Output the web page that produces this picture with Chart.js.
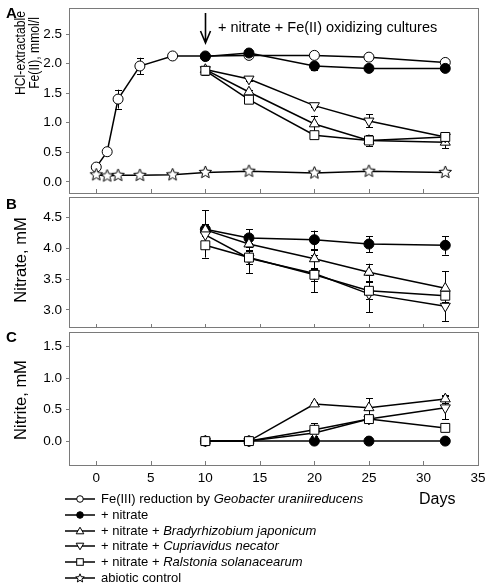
<!DOCTYPE html>
<html>
<head>
<meta charset="utf-8">
<script src="https://cdn.jsdelivr.net/npm/chart.js@4/dist/chart.umd.min.js"></script>
<style>
  html,body{margin:0;padding:0;background:#fff;}
  #wrap{position:relative;width:490px;height:587px;overflow:hidden;font-family:"Liberation Sans",Arial,sans-serif;color:#000;}
  canvas{position:absolute;left:0;}
  .t{position:absolute;white-space:nowrap;}
  .rot{transform:translate(-50%,-50%) rotate(-90deg);}
  .rotc{transform:translate(-50%,-50%) rotate(-90deg) scaleX(0.87);}
  .leg{position:absolute;left:64px;height:16px;font-size:13px;line-height:16px;white-space:nowrap;}
  .leg svg{position:absolute;left:0;top:2px;}
  .leg span{position:absolute;left:37px;top:0;}
</style>
</head>
<body>
<div id="wrap">
  <canvas id="cA" width="490" height="200" style="top:0px"></canvas>
  <canvas id="cB" width="490" height="145" style="top:190px"></canvas>
  <canvas id="cC" width="490" height="170" style="top:325px"></canvas>

  <div class="t" style="left:6px;top:4px;font-size:15px;font-weight:bold;">A</div>
  <div class="t" style="left:6px;top:195px;font-size:15px;font-weight:bold;">B</div>
  <div class="t" style="left:6px;top:328px;font-size:15px;font-weight:bold;">C</div>

  <div class="t rotc" style="left:20px;top:53px;font-size:14px;">HCl-extractable</div>
  <div class="t rotc" style="left:34px;top:53px;font-size:14px;">Fe(II), mmol/l</div>
  <div class="t rot" style="left:20px;top:260px;font-size:16.5px;">Nitrate, mM</div>
  <div class="t rot" style="left:20px;top:400px;font-size:16.5px;">Nitrite, mM</div>

  <div class="t" style="left:218px;top:19px;font-size:14.5px;">+ nitrate + Fe(II) oxidizing cultures</div>
  <div class="t" style="left:419px;top:490px;font-size:16px;">Days</div>

  <div id="legend"></div>
</div>
<script>
// ---------- DATA ----------
const xTicks = [0, 5, 10, 15, 20, 25, 30, 35];
const yTicksA = [0.0, 0.5, 1.0, 1.5, 2.0, 2.5];
const yTicksB = [3.0, 3.5, 4.0, 4.5];
const yTicksC = [0.0, 0.5, 1.0, 1.5];

const daysA = [0, 1, 2, 4, 7, 10, 14, 20, 25, 32];
const daysN = [10, 14, 20, 25, 32];

const seriesNames = [
  "Fe(III) reduction by |Geobacter uraniireducens",
  "+ nitrate",
  "+ nitrate + |Bradyrhizobium japonicum",
  "+ nitrate + |Cupriavidus necator",
  "+ nitrate + |Ralstonia solanacearum",
  "abiotic control"
];

// Panel A: HCl-extractable Fe(II), mmol/l
const geoA     = [0.25, 0.51, 1.40, 1.96, 2.13, 2.13, 2.14, 2.14, 2.11, 2.02];
const geoAErr  = [0, 0.02, 0.16, 0.14, 0.02, 0.03, 0.02, 0.02, 0.04, 0.02];
const abioA    = [0.12, 0.10, 0.11, 0.11, 0.12, 0.16, 0.18, 0.15, 0.18, 0.16];
const abioAErr = [0, 0, 0, 0, 0, 0, 0, 0, 0, 0];
const nitA     = [2.12, 2.18, 1.96, 1.92, 1.92];
const nitAErr  = [0.05, 0.02, 0.07, 0.03, 0.03];
const bradyA   = [1.90, 1.52, 0.98, 0.70, 0.67];
const bradyAErr= [0.06, 0.03, 0.14, 0.05, 0.10];
const cupriA   = [1.90, 1.74, 1.29, 1.03, 0.76];
const cupriAErr= [0.06, 0.03, 0.03, 0.11, 0.03];
const ralsA    = [1.88, 1.39, 0.79, 0.70, 0.76];
const ralsAErr = [0.08, 0.03, 0.03, 0.09, 0.04];

// Panel B: Nitrate, mM
const nitB     = [4.31, 4.17, 4.14, 4.07, 4.05];
const nitBErr  = [0.31, 0.14, 0.15, 0.13, 0.15];
const bradyB   = [4.30, 4.07, 3.83, 3.61, 3.35];
const bradyBErr= [0.10, 0.10, 0.15, 0.14, 0.28];
const cupriB   = [4.22, 3.84, 3.59, 3.26, 3.06];
const cupriBErr= [0.10, 0.24, 0.30, 0.30, 0.24];
const ralsB    = [4.05, 3.85, 3.57, 3.31, 3.23];
const ralsBErr = [0.20, 0.10, 0.10, 0.14, 0.10];

// Panel C: Nitrite, mM
const nitC     = [0, 0, 0, 0, 0];
const nitCErr  = [0, 0, 0, 0, 0];
const bradyC   = [0, 0, 0.59, 0.53, 0.67];
const bradyCErr= [0, 0, 0.03, 0.15, 0.06];
const cupriC   = [0, 0, 0.13, 0.35, 0.53];
const cupriCErr= [0, 0, 0.05, 0.03, 0.18];
const ralsC    = [0, 0, 0.18, 0.35, 0.21];
const ralsCErr = [0, 0, 0.10, 0.03, 0.03];

// ---------- STYLE HELPERS ----------
const FONT = '"Liberation Sans", Arial, sans-serif';
const BOX = '#7a7a7a';

function makeStar(r){
  const s = Math.ceil(r*2+4);
  const c = document.createElement('canvas'); c.width = s; c.height = s;
  const g = c.getContext('2d');
  g.beginPath();
  for(let k=0;k<10;k++){
    const a = -Math.PI/2 + k*Math.PI/5;
    const rr = (k%2) ? r*0.45 : r;
    g.lineTo(s/2 + rr*Math.cos(a), s/2 + rr*Math.sin(a));
  }
  g.closePath(); g.fillStyle='#fff'; g.fill();
  g.lineWidth = 1; g.strokeStyle = '#000'; g.stroke();
  return c;
}
const starImg = makeStar(6.5);

const styles = {
  geo:   {pointStyle:'circle',   pointRadius:5,   pointBackgroundColor:'#fff', rot:0},
  nit:   {pointStyle:'circle',   pointRadius:5,   pointBackgroundColor:'#000', rot:0},
  brady: {pointStyle:'triangle', pointRadius:5.8, pointBackgroundColor:'#fff', rot:0},
  cupri: {pointStyle:'triangle', pointRadius:5.8, pointBackgroundColor:'#fff', rot:180},
  rals:  {pointStyle:'rect',     pointRadius:6.3, pointBackgroundColor:'#fff', rot:0},
  abio:  {pointStyle:starImg,    pointRadius:6.5, pointBackgroundColor:'#fff', rot:0}
};

function ds(key, days, vals, errs){
  const st = styles[key];
  return {
    data: days.map((d,i)=>({x:d, y:vals[i]})),
    err: errs,
    borderColor:'#000', borderWidth:1.5,
    pointStyle: st.pointStyle, pointRadius: st.pointRadius,
    pointRotation: st.rot,
    pointBackgroundColor: st.pointBackgroundColor,
    pointBorderColor:'#000', pointBorderWidth:1,
    pointHoverRadius: st.pointRadius,
    tension:0, fill:false, clip:false
  };
}

const panelPlugin = {
  id:'panel',
  beforeDatasetsDraw(chart){
    const ctx = chart.ctx, xs = chart.scales.x, ys = chart.scales.y;
    ctx.save();
    ctx.strokeStyle = '#000'; ctx.lineWidth = 1;
    chart.data.datasets.forEach(d=>{
      if(!d.err) return;
      d.data.forEach((p,i)=>{
        const e = d.err[i]; if(!e) return;
        const px = Math.round(xs.getPixelForValue(p.x)) + 0.5;
        const y1 = ys.getPixelForValue(p.y + e), y2 = ys.getPixelForValue(p.y - e);
        ctx.beginPath();
        ctx.moveTo(px, y1); ctx.lineTo(px, y2);
        ctx.moveTo(px-3.5, Math.round(y1)+0.5); ctx.lineTo(px+3.5, Math.round(y1)+0.5);
        ctx.moveTo(px-3.5, Math.round(y2)+0.5); ctx.lineTo(px+3.5, Math.round(y2)+0.5);
        ctx.stroke();
      });
    });
    ctx.restore();
  },
  afterDraw(chart){
    const ctx = chart.ctx, a = chart.chartArea, xs = chart.scales.x;
    ctx.save();
    ctx.strokeStyle = BOX; ctx.lineWidth = 1;
    ctx.strokeRect(Math.round(a.left)+0.5, Math.round(a.top)+0.5, Math.round(a.right-a.left), Math.round(a.bottom-a.top));
    ctx.beginPath();
    xTicks.forEach(v=>{
      const px = Math.round(xs.getPixelForValue(v)) + 0.5;
      ctx.moveTo(px, Math.round(a.bottom)); ctx.lineTo(px, Math.round(a.bottom) - 4);
    });
    ctx.stroke();
    ctx.restore();
    if(chart.canvas.id === 'cA'){
      const px = Math.round(xs.getPixelForValue(10)) + 0.5;
      ctx.save();
      ctx.strokeStyle = '#000'; ctx.lineWidth = 1.6;
      ctx.beginPath();
      ctx.moveTo(px, 13); ctx.lineTo(px, 43);
      ctx.moveTo(px-5, 31); ctx.lineTo(px, 43); ctx.lineTo(px+5, 31);
      ctx.stroke();
      ctx.restore();
    }
  }
};

function makeChart(id, datasets, yMin, yMax, yTicks, pad, showX){
  return new Chart(document.getElementById(id), {
    type:'line',
    data:{datasets},
    options:{
      responsive:false, animation:false, devicePixelRatio:1,
      layout:{padding:pad},
      plugins:{legend:{display:false}, tooltip:{enabled:false}},
      scales:{
        x:{
          type:'linear', min:-2.5, max:35, display: showX,
          afterBuildTicks: s => { s.ticks = xTicks.map(v=>({value:v})); },
          afterFit: s => { s.height = showX ? 30 : 0; s.paddingLeft = 0; s.paddingRight = 0; },
          grid:{display:false, drawTicks:false, drawOnChartArea:false},
          border:{display:false},
          ticks:{padding:5, color:'#000', font:{family:FONT, size:13.5}, maxRotation:0, callback: v => String(v)}
        },
        y:{
          type:'linear', min:yMin, max:yMax,
          afterBuildTicks: s => { s.ticks = yTicks.map(v=>({value:v})); },
          afterFit: s => { s.width = 69; s.paddingTop = 0; s.paddingBottom = 0; },
          grid:{drawOnChartArea:false, tickLength:3, color:BOX},
          border:{display:false},
          ticks:{padding:4, color:'#000', font:{family:FONT, size:13.5}, callback: v => Number(v).toFixed(1)}
        }
      }
    },
    plugins:[panelPlugin]
  });
}

makeChart('cA', [
  ds('abio', daysA, abioA, abioAErr),
  ds('rals', daysN, ralsA, ralsAErr),
  ds('cupri', daysN, cupriA, cupriAErr),
  ds('brady', daysN, bradyA, bradyAErr),
  ds('nit', daysN, nitA, nitAErr),
  ds('geo', daysA, geoA, geoAErr)
], -0.18, 2.95, yTicksA, {left:0, right:12, top:3, bottom:6}, false);

makeChart('cB', [
  ds('rals', daysN, ralsB, ralsBErr),
  ds('cupri', daysN, cupriB, cupriBErr),
  ds('brady', daysN, bradyB, bradyBErr),
  ds('nit', daysN, nitB, nitBErr)
], 2.71, 4.83, yTicksB, {left:0, right:12, top:6, bottom:5}, false);

makeChart('cC', [
  ds('rals', daysN, ralsC, ralsCErr),
  ds('cupri', daysN, cupriC, cupriCErr),
  ds('brady', daysN, bradyC, bradyCErr),
  ds('nit', daysN, nitC, nitCErr)
], -0.38, 1.73, yTicksC, {left:0, right:12, top:6, bottom:0}, true);

// ---------- LEGEND (HTML) ----------
const legKeys = ['geo','nit','brady','cupri','rals','abio'];
function symSvg(key){
  let m = '';
  if(key==='geo') m = '<circle cx="16" cy="6" r="3.3" fill="#fff" stroke="#000" stroke-width="1"/>';
  if(key==='nit') m = '<circle cx="16" cy="6" r="3.3" fill="#000" stroke="#000" stroke-width="1"/>';
  if(key==='brady') m = '<polygon points="16,2.2 19.8,8.8 12.2,8.8" fill="#fff" stroke="#000" stroke-width="1"/>';
  if(key==='cupri') m = '<polygon points="16,9.8 19.8,3.2 12.2,3.2" fill="#fff" stroke="#000" stroke-width="1"/>';
  if(key==='rals') m = '<rect x="12.7" y="2.7" width="6.6" height="6.6" fill="#fff" stroke="#000" stroke-width="1"/>';
  if(key==='abio'){
    let pts=[]; for(let k=0;k<10;k++){const a=-Math.PI/2+k*Math.PI/5; const r=(k%2)?2:4.5; pts.push((16+r*Math.cos(a)).toFixed(2)+','+(6.3+r*Math.sin(a)).toFixed(2));}
    m = '<polygon points="'+pts.join(' ')+'" fill="#fff" stroke="#000" stroke-width="1"/>';
  }
  return '<svg width="32" height="12" viewBox="0 0 32 12"><line x1="1" y1="6" x2="31" y2="6" stroke="#000" stroke-width="1.5"/>'+m+'</svg>';
}
const legRowsY = [491, 507, 523, 538, 554, 570];
const legEl = document.getElementById('legend');
seriesNames.forEach((name,i)=>{
  const parts = name.split('|');
  const txt = parts[0] + (parts[1] ? '<i>'+parts[1]+'</i>' : '');
  const div = document.createElement('div');
  div.className = 'leg';
  div.style.top = legRowsY[i] + 'px';
  div.innerHTML = symSvg(legKeys[i]) + '<span>' + txt + '</span>';
  legEl.appendChild(div);
});
</script>
</body>
</html>
